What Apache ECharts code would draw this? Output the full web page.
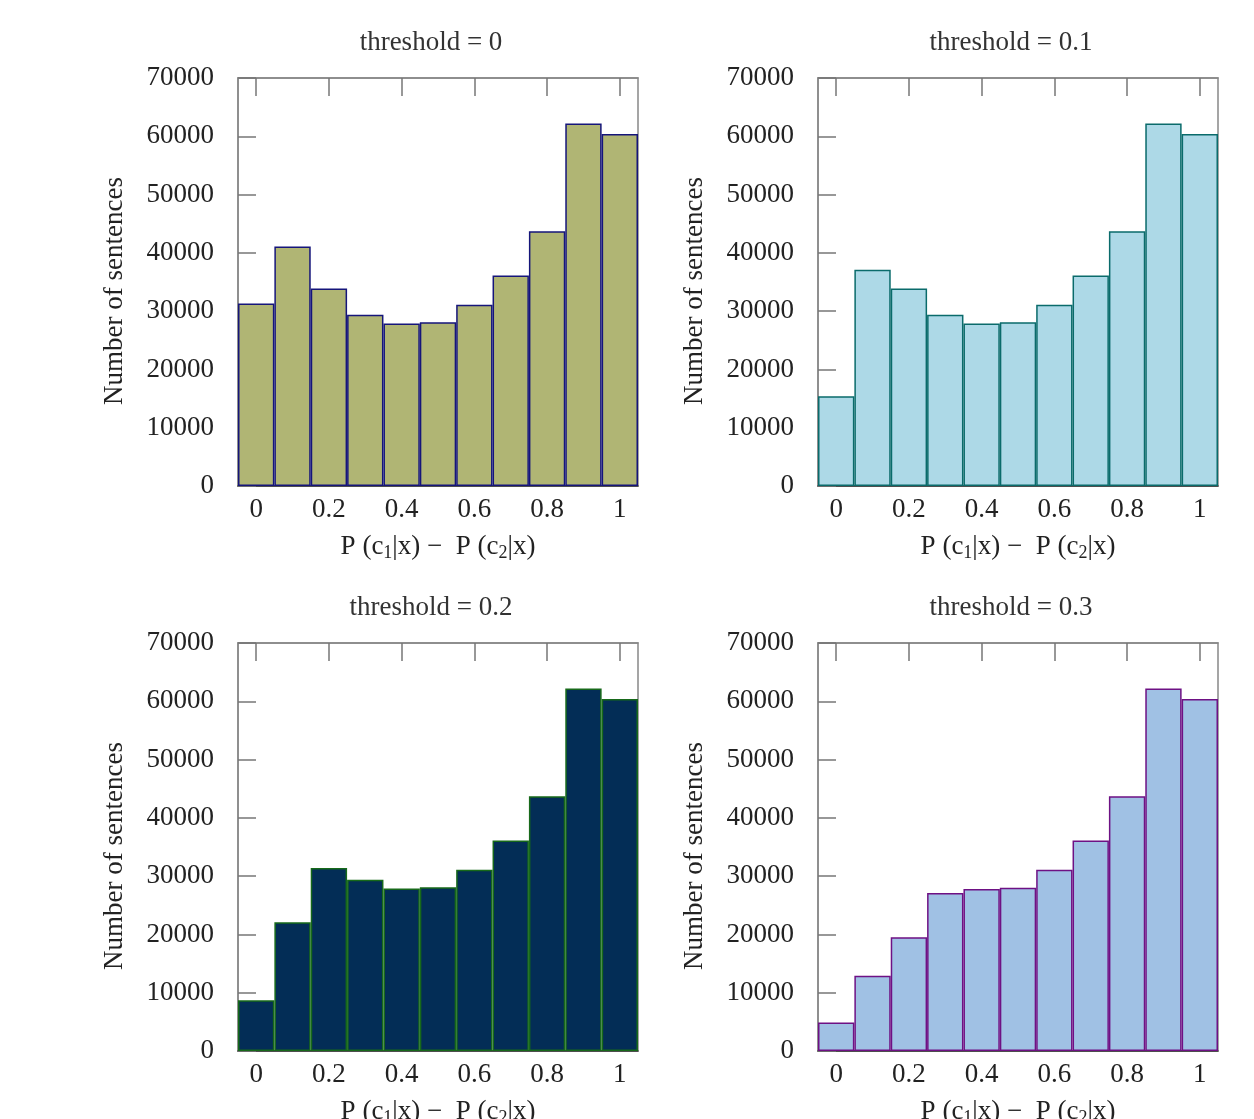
<!DOCTYPE html>
<html><head><meta charset="utf-8">
<script src="https://cdn.jsdelivr.net/npm/echarts@6/dist/echarts.min.js"></script>
<style>html,body{margin:0;padding:0;background:#fff}#c{width:1254px;height:1119px}</style>
</head><body><div id="c"></div>
<script>
var categories = ['0','0.1','0.2','0.3','0.4','0.5','0.6','0.7','0.8','0.9','1'];
var titles = ['threshold = 0','threshold = 0.1','threshold = 0.2','threshold = 0.3'];
var yTicks = [0,10000,20000,30000,40000,50000,60000,70000];
var valuesT0  = [31300, 41100, 33900, 29400, 27900, 28100, 31100, 36100, 43700, 62200, 60400];
var valuesT01 = [15400, 37100, 33900, 29400, 27900, 28100, 31100, 36100, 43700, 62200, 60400];
var valuesT02 = [8700, 22100, 31400, 29400, 27900, 28100, 31100, 36100, 43700, 62200, 60400];
var valuesT03 = [4900, 12900, 19500, 27100, 27800, 28000, 31100, 36100, 43700, 62200, 60400];

var panels = [
  {data: valuesT0,  fill:'#b0b574', border:'#15157a', left:238, top:78},
  {data: valuesT01, fill:'#add9e7', border:'#0a6b6b', left:818, top:78},
  {data: valuesT02, fill:'#032d56', border:'#17691a', left:238, top:643},
  {data: valuesT03, fill:'#a0c1e4', border:'#6e1184', left:818, top:643}
];
var FONT = '"Liberation Serif","DejaVu Serif",serif';
var FS = 27;
var W = 400, H = 408;
var option = {animation:false, title:[], grid:[], xAxis:[], yAxis:[], series:[]};
panels.forEach(function(p, i){
  option.title.push({text: titles[i], left: p.left + W/2 - 12, top: p.top - 54, textAlign:'center',
    textStyle:{fontFamily:FONT, fontSize:FS, fontWeight:'normal', color:'#333'}});
  option.grid.push({left:p.left, top:p.top, width:W, height:H, show:true, borderColor:'#888', borderWidth:1.5,
    backgroundColor:'transparent', containLabel:false, outerBoundsMode:'none'});
  option.xAxis.push({type:'category', gridIndex:i, data:categories, position:'bottom', boundaryGap:true,
    axisLine:{show:true, lineStyle:{color:'#333', width:1.5}}, axisTick:{show:false},
    axisLabel:{interval:1, margin:10, fontFamily:FONT, fontSize:FS, color:'#222'},
    name:'P (c{s|1}|x) \u2212  P (c{s|2}|x)', nameLocation:'middle', nameGap:45,
    nameTextStyle:{fontFamily:FONT, fontSize:FS, color:'#222',
      rich:{s:{fontFamily:FONT, fontSize:18, color:'#222', verticalAlign:'bottom', padding:[13,0,0,0]}}}});
  option.xAxis.push({type:'category', gridIndex:i, data:categories, position:'top', boundaryGap:true,
    axisLine:{show:true, lineStyle:{color:'#888', width:1.5}},
    axisTick:{show:true, inside:true, length:18, interval:1, alignWithLabel:true, lineStyle:{color:'#777', width:1.5}},
    axisLabel:{show:false}});
  option.yAxis.push({type:'value', gridIndex:i, min:0, max:70000, interval:10000,
    axisLine:{show:true, lineStyle:{color:'#888', width:1.5}},
    axisTick:{show:true, inside:true, length:18, lineStyle:{color:'#777', width:1.5}},
    splitLine:{show:false},
    axisLabel:{margin:24, fontFamily:FONT, fontSize:FS, color:'#222',
      formatter:function(v){ return yTicks.indexOf(v) >= 0 ? String(v) : ''; }},
    name:'Number of sentences', nameLocation:'middle', nameGap:110, nameRotate:90,
    nameTextStyle:{fontFamily:FONT, fontSize:FS, color:'#222', padding:[0,18,0,0]}});
  option.series.push({type:'bar', xAxisIndex:2*i, yAxisIndex:i, data:p.data, barCategoryGap:'0%',
    itemStyle:{color:p.fill, borderColor:p.border, borderWidth:1.5}, z:1});
});
var chart = echarts.init(document.getElementById('c'), null, {renderer:'canvas'});
chart.setOption(option);
</script></body></html>
